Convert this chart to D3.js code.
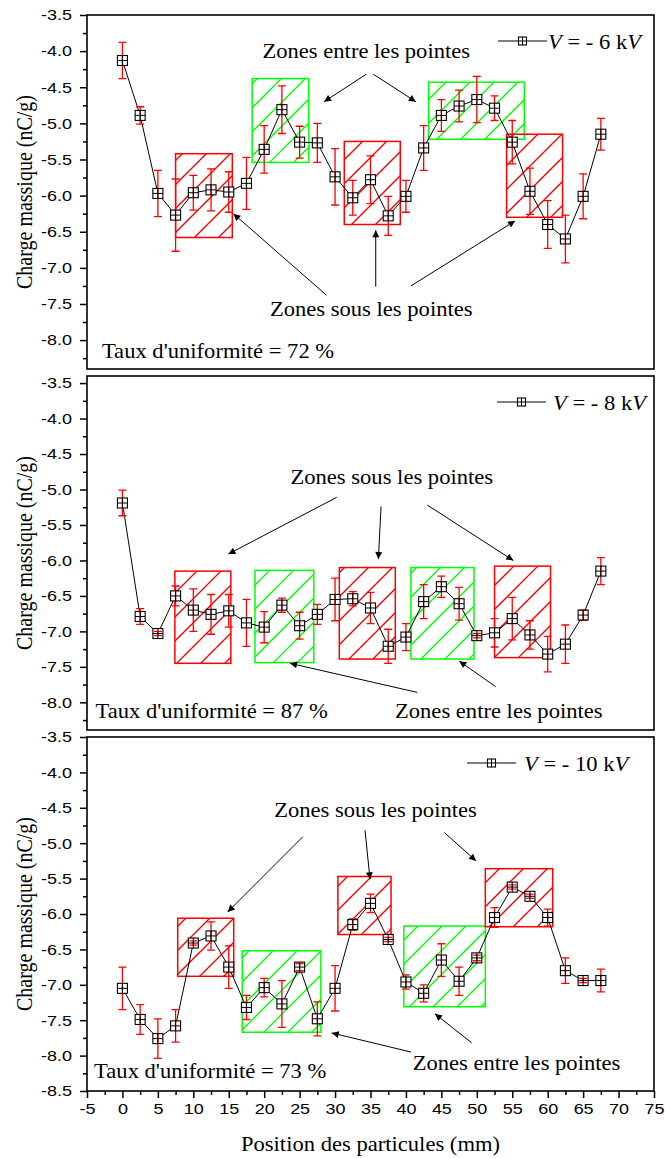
<!DOCTYPE html>
<html>
<head>
<meta charset="utf-8">
<script src="https://cdn.jsdelivr.net/npm/d3@7"></script>
<style>
body { margin: 0; background: #fff; }
svg { display: block; }
.serif { font-family: "Liberation Serif", "Times New Roman", serif; }
.sans { font-family: "Liberation Sans", Arial, sans-serif; }
</style>
</head>
<body>
<script>
var W = 665, H = 1158;

// particle positions (mm)
var positions = [0, 2.5, 5, 7.5, 10, 12.5, 15, 17.5, 20, 22.5, 25, 27.5, 30, 32.5,
                 35, 37.5, 40, 42.5, 45, 47.5, 50, 52.5, 55, 57.5, 60, 62.5, 65, 67.5];

// charge massique (nC/g) and error, V = -6 kV
var charge6 = [-4.13, -4.89, -5.97, -6.27, -5.96, -5.92, -5.95, -5.83, -5.36, -4.81, -5.26, -5.27, -5.74, -6.03,
               -5.78, -6.28, -6.01, -5.34, -4.89, -4.76, -4.67, -4.79, -5.26, -5.94, -6.40, -6.60, -6.01, -5.15];
var err6 = [0.25, 0.12, 0.32, 0.50, 0.24, 0.29, 0.28, 0.36, 0.33, 0.33, 0.22, 0.27, 0.39, 0.24,
            0.33, 0.27, 0.22, 0.31, 0.22, 0.22, 0.32, 0.17, 0.30, 0.32, 0.33, 0.33, 0.31, 0.22];

// V = -8 kV
var charge8 = [-5.19, -6.79, -7.03, -6.50, -6.70, -6.76, -6.71, -6.88, -6.94, -6.63, -6.92, -6.76, -6.55, -6.54,
               -6.67, -7.21, -7.08, -6.58, -6.37, -6.61, -7.06, -7.02, -6.82, -7.05, -7.32, -7.18, -6.77, -6.15];
var err8 = [0.18, 0.11, 0.03, 0.14, 0.30, 0.28, 0.23, 0.33, 0.22, 0.10, 0.19, 0.14, 0.30, 0.10,
            0.22, 0.24, 0.19, 0.24, 0.15, 0.23, 0.03, 0.20, 0.30, 0.20, 0.25, 0.27, 0.07, 0.19];

// V = -10 kV
var charge10 = [-7.05, -7.49, -7.76, -7.58, -6.41, -6.31, -6.75, -7.32, -7.04, -7.27, -6.75, -7.48, -7.05, -6.15,
                -5.85, -6.36, -6.96, -7.12, -6.65, -6.95, -6.62, -6.05, -5.62, -5.75, -6.05, -6.80, -6.94, -6.94];
var err10 = [0.30, 0.21, 0.28, 0.23, 0.03, 0.20, 0.30, 0.17, 0.13, 0.33, 0.05, 0.24, 0.32, 0.08,
             0.13, 0.03, 0.10, 0.12, 0.23, 0.20, 0.04, 0.14, 0.03, 0.03, 0.12, 0.18, 0.03, 0.16];

// hatched zones: [x0, x1, top, bottom, kind]  (s = sous les pointes, e = entre les pointes)
var zones6 = [[7.5, 15.5, -5.42, -6.58, "s"], [18.3, 26.3, -4.38, -5.54, "e"], [31.3, 39.2, -5.25, -6.40, "s"],
              [43.2, 56.7, -4.43, -5.22, "e"], [54.2, 62.1, -5.15, -6.30, "s"]];
var zones8 = [[7.4, 15.3, -6.15, -7.45, "s"], [18.7, 27.0, -6.14, -7.44, "e"], [30.6, 38.5, -6.10, -7.39, "s"],
              [40.7, 49.6, -6.10, -7.39, "e"], [52.5, 60.4, -6.08, -7.37, "s"]];
var zones10 = [[7.8, 15.7, -6.06, -6.88, "s"], [16.9, 28.0, -6.52, -7.67, "e"], [30.4, 37.9, -5.47, -6.29, "s"],
               [39.7, 51.2, -6.17, -7.31, "e"], [51.2, 60.7, -5.36, -6.18, "s"]];

// annotation texts: [x, y, text, anchor]
var notes6 = [[34.4, -4.10, "Zones entre les pointes", "middle"], [35.1, -7.67, "Zones sous les pointes", "middle"],
              [-2.9, -8.25, "Taux d'uniformité = 72 %", "start"]];
var notes8 = [[38.0, -4.92, "Zones sous les pointes", "middle"], [53.1, -8.22, "Zones entre les pointes", "middle"],
              [-3.8, -8.22, "Taux d'uniformité = 87 %", "start"]];
var notes10 = [[35.7, -4.63, "Zones sous les pointes", "middle"], [55.6, -8.21, "Zones entre les pointes", "middle"],
               [-4.0, -8.32, "Taux d'uniformité = 73 %", "start"]];

// arrows: [x from, y from, x to, y to]
var arrows6 = [[34.4, -4.32, 28.45, -4.70], [35.4, -4.32, 41.4, -4.70],
               [28.8, -7.38, 15.65, -6.25], [35.74, -7.26, 35.74, -6.48], [40.7, -7.25, 55.4, -6.35]];
var arrows8 = [[30.24, -5.11, 14.94, -5.91], [36.49, -5.24, 36.11, -5.98], [43.02, -5.22, 55.15, -6.00],
               [41.6, -7.86, 23.65, -7.45], [52.67, -7.78, 47.53, -7.42]];
var arrows10 = [[25.44, -4.91, 14.86, -5.97], [34.23, -4.82, 34.93, -5.51], [45.42, -4.85, 49.89, -5.25],
                [40.72, -7.95, 29.53, -7.68], [49.28, -7.82, 44.1, -7.41]];

var legendLabels = ["6", "8", "10"];
var xTicks = [-5, 0, 5, 10, 15, 20, 25, 30, 35, 40, 45, 50, 55, 60, 65, 70, 75];
var yTicks = [-3.5, -4.0, -4.5, -5.0, -5.5, -6.0, -6.5, -7.0, -7.5, -8.0, -8.5];

var zoneColor = {s: "#ff0000", e: "#00ff00"};
var ph = 354;
var hatchStep = 24;

var panels = [
    {charge: charge6, err: err6, zones: zones6, notes: notes6, arrows: arrows6, dom: [-8.4, -3.5], top: 15, lx: 498, tx: 548},
    {charge: charge8, err: err8, zones: zones8, notes: notes8, arrows: arrows8, dom: [-8.39, -3.4], top: 376, lx: 497, tx: 553},
    {charge: charge10, err: err10, zones: zones10, notes: notes10, arrows: arrows10, dom: [-8.5, -3.5], top: 737, lx: 467, tx: 524}
];

var x = d3.scaleLinear().domain([-5, 75]).range([87, 654]);

var svg = d3.select("body").append("svg")
    .attr("width", W)
    .attr("height", H);

var defs = svg.append("defs");
defs.append("marker")
    .attr("id", "arrow")
    .attr("viewBox", "0 0 10 10")
    .attr("refX", 10).attr("refY", 5)
    .attr("markerUnits", "userSpaceOnUse")
    .attr("markerWidth", 11).attr("markerHeight", 7)
    .attr("orient", "auto")
    .append("path")
    .attr("d", "M0,0L10,5L0,10z")
    .style("fill", "#000");

function addText(g, px, py, anchor, size) {
    return g.append("text")
        .attr("class", "serif")
        .attr("transform", "translate(" + px + "," + py + ") scale(1.13,1)")
        .attr("text-anchor", anchor)
        .style("font-size", size + "px")
        .style("fill", "#000");
}

function drawMarker(sel, s, fillOnly) {
    if (fillOnly) {
        sel.append("rect").attr("x", -s / 2).attr("y", -s / 2).attr("width", s).attr("height", s)
            .style("fill", "#fff");
        return;
    }
    sel.append("rect").attr("x", -s / 2).attr("y", -s / 2).attr("width", s).attr("height", s)
        .style("fill", "none").style("stroke", "#000").style("stroke-width", 1.1);
    sel.append("path").attr("d", "M" + (-s / 2) + ",0H" + (s / 2) + "M0," + (-s / 2) + "V" + (s / 2))
        .style("stroke", "#000").style("stroke-width", 1);
}

panels.forEach(function(p, k) {
    var y = d3.scaleLinear().domain(p.dom).range([p.top + ph, p.top]);
    var g = svg.append("g");
    var pts = positions.map(function(d, i) { return {x: d, v: p.charge[i], e: p.err[i]}; });

    // zones with diagonal hatching
    p.zones.forEach(function(z, i) {
        var x0 = x(z[0]), x1 = x(z[1]), y0 = y(z[2]), y1 = y(z[3]);
        var id = "clip" + k + "_" + i;
        defs.append("clipPath").attr("id", id)
            .append("rect").attr("x", x0).attr("y", y0).attr("width", x1 - x0).attr("height", y1 - y0);
        var cs = [];
        for (var c = Math.ceil((x0 + y0) / hatchStep) * hatchStep; c <= x1 + y1; c += hatchStep) cs.push(c);
        g.append("g")
            .attr("clip-path", "url(#" + id + ")")
            .selectAll("line")
            .data(cs)
            .enter()
            .append("line")
            .attr("x1", function(c) { return c - y1; })
            .attr("y1", y1)
            .attr("x2", function(c) { return c - y0; })
            .attr("y2", y0)
            .style("stroke", zoneColor[z[4]])
            .style("stroke-width", 1.3);
        g.append("rect")
            .attr("x", x0).attr("y", y0)
            .attr("width", x1 - x0).attr("height", y1 - y0)
            .style("fill", "none")
            .style("stroke", zoneColor[z[4]])
            .style("stroke-width", 1.5);
    });

    // line
    g.append("path")
        .datum(pts)
        .attr("d", d3.line().x(function(d) { return x(d.x); }).y(function(d) { return y(d.v); }))
        .style("fill", "none")
        .style("stroke", "#000")
        .style("stroke-width", 1);

    g.selectAll("g.bg")
        .data(pts)
        .enter()
        .append("g")
        .attr("transform", function(d) { return "translate(" + x(d.x) + "," + y(d.v) + ")"; })
        .each(function() { drawMarker(d3.select(this), 10, true); });

    // error bars
    g.selectAll("path.err")
        .data(pts)
        .enter()
        .append("path")
        .attr("class", "err")
        .attr("d", function(d) {
            var cx = x(d.x), ya = y(d.v + d.e), yb = y(d.v - d.e);
            return "M" + cx + "," + ya + "V" + yb +
                   "M" + (cx - 4) + "," + ya + "H" + (cx + 4) +
                   "M" + (cx - 4) + "," + yb + "H" + (cx + 4);
        })
        .style("fill", "none")
        .style("stroke", "#ff0000")
        .style("stroke-width", 1.3);

    g.selectAll("g.mk")
        .data(pts)
        .enter()
        .append("g")
        .attr("transform", function(d) { return "translate(" + x(d.x) + "," + y(d.v) + ")"; })
        .each(function() { drawMarker(d3.select(this), 10, false); });

    // annotations
    p.notes.forEach(function(n) {
        addText(g, x(n[0]), y(n[1]), n[3], 20).text(n[2]);
    });
    g.selectAll("line.arrow")
        .data(p.arrows)
        .enter()
        .append("line")
        .attr("class", "arrow")
        .attr("x1", function(d) { return x(d[0]); })
        .attr("y1", function(d) { return y(d[1]); })
        .attr("x2", function(d) { return x(d[2]); })
        .attr("y2", function(d) { return y(d[3]); })
        .style("stroke", "#000")
        .style("stroke-width", 1)
        .attr("marker-end", "url(#arrow)");

    // legend
    var ly = p.top + 26;
    g.append("line").attr("x1", p.lx).attr("x2", p.lx + 49).attr("y1", ly).attr("y2", ly)
        .style("stroke", "#000").style("stroke-width", 1);
    var lm = g.append("g").attr("transform", "translate(" + (p.lx + 24.5) + "," + ly + ")");
    drawMarker(lm, 8, true);
    drawMarker(lm, 8, false);
    var lt = addText(g, p.tx, p.top + 33.5, "start", 20);
    lt.append("tspan").style("font-style", "italic").text("V");
    lt.append("tspan").text(" = - " + legendLabels[k] + " k");
    lt.append("tspan").style("font-style", "italic").text("V");

    // y axis
    var inDom = function(v) { return v >= p.dom[0] - 1e-9 && v <= p.dom[1] + 1e-9; };
    var minor = yTicks.map(function(v) { return v - 0.25; }).filter(inDom);
    var ya = g.append("g")
        .attr("transform", "translate(87,0)")
        .call(d3.axisLeft(y).tickValues(yTicks.filter(inDom)).tickSize(7).tickPadding(5.5)
            .tickFormat(function(d) { return d.toFixed(1); }));
    ya.select(".domain").remove();
    ya.selectAll("line").style("stroke-width", 1.5);
    ya.selectAll("text")
        .attr("class", "sans")
        .attr("transform", "scale(1.2,1)")
        .style("font-size", "15px")
        .style("fill", "#000");
    var ym = g.append("g")
        .attr("transform", "translate(87,0)")
        .call(d3.axisLeft(y).tickValues(minor).tickSize(4).tickFormat(""));
    ym.select(".domain").remove();
    ym.selectAll("line").style("stroke-width", 1.5);

    // y title
    g.append("text")
        .attr("class", "serif")
        .attr("transform", "translate(31.5," + (p.top + ph / 2) + ") scale(1.13,1) rotate(-90)")
        .attr("text-anchor", "middle")
        .style("font-size", "20px")
        .text("Charge massique (nC/g)");

    // frame
    g.append("rect")
        .attr("x", 87).attr("y", p.top)
        .attr("width", 567).attr("height", ph)
        .style("fill", "none")
        .style("stroke", "#000")
        .style("stroke-width", 1.6);

    if (k == 2) {
        var xa = g.append("g")
            .attr("transform", "translate(0," + (p.top + ph) + ")")
            .call(d3.axisBottom(x).tickValues(xTicks).tickSize(7).tickPadding(5)
                .tickFormat(function(d) { return String(d); }));
        xa.select(".domain").remove();
        xa.selectAll("line").style("stroke-width", 1.5);
        xa.selectAll("text")
            .attr("class", "sans")
            .attr("transform", "scale(1.2,1)")
            .style("font-size", "15px")
            .style("fill", "#000");
        var xm = g.append("g")
            .attr("transform", "translate(0," + (p.top + ph) + ")")
            .call(d3.axisBottom(x).tickValues(xTicks.slice(0, -1).map(function(v) { return v + 2.5; }))
                .tickSize(4).tickFormat(""));
        xm.select(".domain").remove();
        xm.selectAll("line").style("stroke-width", 1.5);

        addText(svg, 370.5, 1151, "middle", 20).text("Position des particules (mm)");
    }
});
</script>
</body>
</html>
